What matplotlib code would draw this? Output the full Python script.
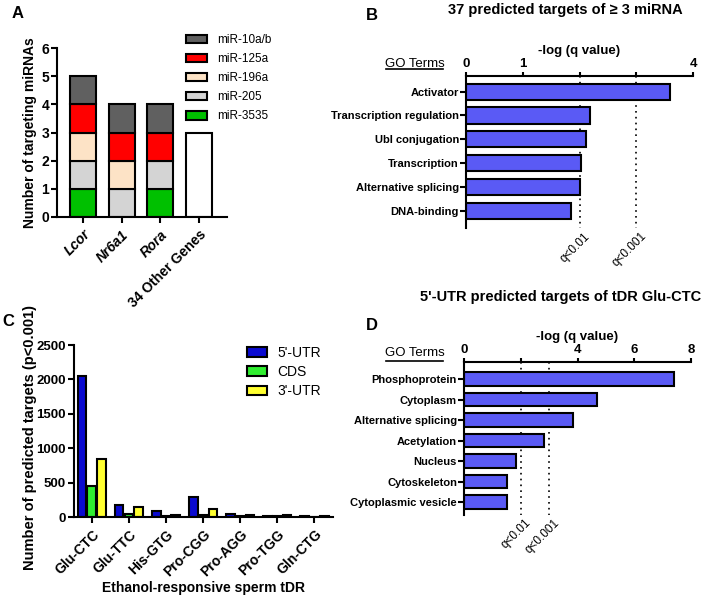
import numpy as np
import matplotlib
matplotlib.use('Agg')
import matplotlib.pyplot as plt
from matplotlib.patches import Patch

plt.rcParams['font.family'] = ['Liberation Sans', 'DejaVu Sans']
plt.rcParams['axes.linewidth'] = 1.5

# [DATA] ======================================================================
# Panel A: miRNAs targeting each gene (stack order bottom -> top)
genes = ['Lcor', 'Nr6a1', 'Rora', '34 Other Genes']
mir_names = ['miR-3535', 'miR-205', 'miR-196a', 'miR-125a', 'miR-10a/b']
mir_3535 = [1, 0, 1, 0]
mir_205 = [1, 1, 1, 0]
mir_196a = [1, 1, 0, 0]
mir_125a = [1, 1, 1, 0]
mir_10ab = [1, 1, 1, 0]
other_genes = [0, 0, 0, 3]

# Panel B: GO terms, 37 predicted targets of >= 3 miRNA
go_terms_b = ['Activator', 'Transcription regulation', 'Ubl conjugation',
              'Transcription', 'Alternative splicing', 'DNA-binding']
neglog_q_b = [3.6, 2.18, 2.11, 2.02, 2.0, 1.85]

# Panel C: predicted targets per tDR
tdrs = ['Glu-CTC', 'Glu-TTC', 'His-GTG', 'Pro-CGG', 'Pro-AGG', 'Pro-TGG', 'Gln-CTG']
utr5 = [2045, 170, 83, 291, 44, 15, 15]
cds = [447, 44, 19, 34, 15, 15, 5]
utr3 = [850, 146, 29, 117, 34, 29, 15]

# Panel D: GO terms, 5'-UTR targets of tDR Glu-CTC
go_terms_d = ['Phosphoprotein', 'Cytoplasm', 'Alternative splicing', 'Acetylation',
              'Nucleus', 'Cytoskeleton', 'Cytoplasmic vesicle']
neglog_q_d = [7.4, 4.67, 3.85, 2.81, 1.85, 1.52, 1.52]

# significance thresholds (-log q)
q_lines = [2, 3]
q_labels = ['q<0.01', 'q<0.001']
# [END DATA] ==================================================================

mir_values = [mir_3535, mir_205, mir_196a, mir_125a, mir_10ab]
mir_colors = ['#00C000', '#D4D4D4', '#FDE3C6', '#FF0000', '#606060']
go_color = '#5A5AF5'

fig = plt.figure(figsize=(7.04, 6.0), dpi=100)
W, H = 704.0, 600.0


def add_axes_px(left, top, right, bottom):
    return fig.add_axes([left / W, 1 - bottom / H, (right - left) / W, (bottom - top) / H])


# [PANEL A] ===================================================================
axA = add_axes_px(57, 48, 227, 217)
x = np.arange(len(genes))
bottom = np.zeros(len(genes))
for vals, col in zip(mir_values, mir_colors):
    vals = np.array(vals, dtype=float)
    m = vals > 0
    axA.bar(x[m], vals[m], bottom=bottom[m], width=0.67, color=col,
            edgecolor='black', linewidth=1.5)
    bottom += vals
og = np.array(other_genes, dtype=float)
m = og > 0
axA.bar(x[m], og[m], width=0.67, color='white', edgecolor='black', linewidth=1.5)

axA.set_xlim(-0.67, 3.72)
axA.set_ylim(0, 6)
axA.set_yticks(range(7))
axA.set_xticks(x)
axA.set_xticklabels(genes, rotation=45, ha='right', rotation_mode='anchor',
                    fontweight='bold', fontsize=10)
for lbl in axA.get_xticklabels()[:3]:
    lbl.set_fontstyle('italic')
for lbl in axA.get_yticklabels():
    lbl.set_fontweight('bold')
    lbl.set_fontsize(10)
axA.tick_params(width=1.5, length=4)
axA.tick_params(axis='y', pad=1.5)
axA.spines['top'].set_visible(False)
axA.spines['right'].set_visible(False)
axA.set_ylabel('Number of targeting miRNAs', fontweight='bold', fontsize=10)
axA.yaxis.set_label_coords(-0.118, 0.5)
handles = [Patch(facecolor=c, edgecolor='black', linewidth=1.5, label=n)
           for n, c in zip(mir_names, mir_colors)][::-1]
fig.legend(handles=handles, loc='upper left', bbox_to_anchor=(186 / W, 1 - 34 / H),
           frameon=False, fontsize=8.5, handlelength=1.75, handleheight=0.75,
           labelspacing=0.6, handletextpad=0.85, borderpad=0, borderaxespad=0)

# [PANEL B / D] ===============================================================
def go_panel(ax, terms, vals, xmax, ticks, ticklabels, ylim, bar_h):
    y = np.arange(len(terms))
    ax.barh(y, vals, height=bar_h, color=go_color, edgecolor='black', linewidth=1.5)
    ax.set_ylim(*ylim)
    ax.set_xlim(0, xmax)
    ax.xaxis.tick_top()
    ax.xaxis.set_label_position('top')
    ax.set_xticks(ticks)
    ax.set_xticklabels(ticklabels, fontweight='bold', fontsize=9.5)
    ax.set_yticks(y)
    ax.set_yticklabels(terms, fontweight='bold', fontsize=8)
    ax.tick_params(axis='y', width=1.5, length=4, pad=1)
    ax.tick_params(axis='x', width=1.5, length=3, pad=1)
    ax.spines['bottom'].set_visible(False)
    ax.spines['right'].set_visible(False)
    ax.set_xlabel('-log (q value)', fontweight='bold', fontsize=9.5, labelpad=3)
    for ql, qt in zip(q_lines, q_labels):
        ax.plot([ql, ql], [ylim[1], ylim[0]], color='black', linestyle=(0, (1, 2.5)),
                linewidth=1.2, zorder=0)
        ax.text(ql + 0.02 * xmax, ylim[0] + 0.1, qt, rotation=45, ha='right', va='top',
                rotation_mode='anchor', fontsize=8.5)


axB = add_axes_px(466, 76, 693, 228)
go_panel(axB, go_terms_b, neglog_q_b, 4, [0, 1, 2, 3, 4], ['0', '1', '', '', '4'],
         (5.7, -0.65), 0.67)

axD = add_axes_px(464, 362, 691, 515)
go_panel(axD, go_terms_d, neglog_q_d, 8, [0, 2, 4, 6, 8], ['0', '', '4', '6', '8'],
         (6.63, -0.83), 0.65)

for ytxt, yline in [(64, 69), (353, 361)]:
    fig.text(415 / W, 1 - ytxt / H, 'GO Terms', ha='center', va='center', fontsize=9.5)
    fig.add_artist(plt.Line2D([386 / W, 443 / W], [1 - yline / H, 1 - yline / H],
                              color='black', linewidth=1.2))

fig.text(565 / W, 1 - 10 / H, '37 predicted targets of \u2265 3 miRNA',
         ha='center', va='center', fontweight='bold', fontsize=10.5)
fig.text(561 / W, 1 - 297 / H, "5'-UTR predicted targets of tDR Glu-CTC",
         ha='center', va='center', fontweight='bold', fontsize=10.5)

# [PANEL C] ===================================================================
axC = add_axes_px(74, 345, 333, 517)
xc = np.arange(len(tdrs))
bw = 0.235
step = 0.264
axC.bar(xc - step, utr5, width=bw, color='#0A0AD0', edgecolor='black', linewidth=1.5, label="5'-UTR")
axC.bar(xc, cds, width=bw, color='#30EE30', edgecolor='black', linewidth=1.5, label='CDS')
axC.bar(xc + step, utr3, width=bw, color='#FFFF30', edgecolor='black', linewidth=1.5, label="3'-UTR")
axC.set_xlim(-0.48, 6.5)
axC.set_ylim(0, 2500)
axC.set_yticks(range(0, 2501, 500))
axC.set_xticks(xc)
axC.set_xticklabels(tdrs, rotation=45, ha='right', rotation_mode='anchor',
                    fontweight='bold', fontsize=10)
for lbl in axC.get_yticklabels():
    lbl.set_fontweight('bold')
    lbl.set_fontsize(9.5)
axC.tick_params(width=1.5, length=4)
axC.tick_params(axis='y', pad=2)
axC.spines['top'].set_visible(False)
axC.spines['right'].set_visible(False)
axC.set_ylabel('Number of predicted targets (p<0.001)', fontweight='bold', fontsize=10.5)
axC.yaxis.set_label_coords(-0.143, 0.46)
axC.set_xlabel('Ethanol-responsive sperm tDR', fontweight='bold', fontsize=10)
axC.xaxis.set_label_coords(0.5, -0.37)
fig.legend(handles=axC.get_legend_handles_labels()[0], loc='upper left',
           bbox_to_anchor=(247 / W, 1 - 346 / H), frameon=False, fontsize=10,
           handlelength=1.45, handleheight=0.7, labelspacing=0.37, handletextpad=0.75,
           borderpad=0, borderaxespad=0)

# panel letters
for letter, px, py in [('A', 18, 14), ('B', 372, 15), ('C', 8, 322), ('D', 372, 325)]:
    fig.text(px / W, 1 - py / H, letter, ha='center', va='center', fontweight='bold', fontsize=12)

fig.savefig('out.png', dpi=100)
